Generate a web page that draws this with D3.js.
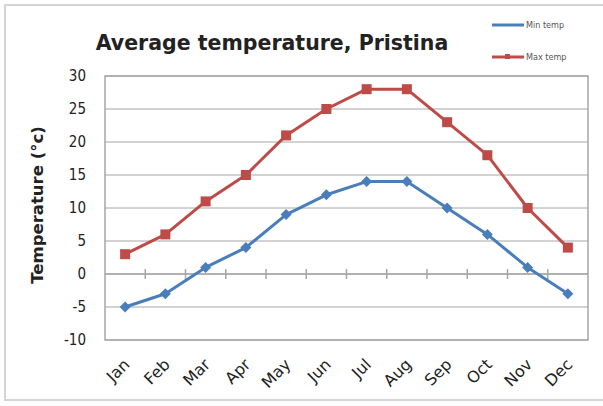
<!DOCTYPE html>
<html><head><meta charset="utf-8">
<script src="https://cdn.jsdelivr.net/npm/d3@7"></script>
<style>body{margin:0;background:#fff}svg{display:block}</style>
</head><body>
<svg id="c" width="603" height="406"></svg>
<script>
const months = ["Jan","Feb","Mar","Apr","May","Jun","Jul","Aug","Sep","Oct","Nov","Dec"];
const minTemp = [-5,-3,1,4,9,12,14,14,10,6,1,-3];
const maxTemp = [3,6,11,15,21,25,28,28,23,18,10,4];
const yTicks = [-10,-5,0,5,10,15,20,25,30];
const seriesNames = ["Min temp","Max temp"];
const colors = ["#4a7ebb","#be4b48"];

const svg = d3.select("#c");
const L=105, R=588, T=76, B=340;
svg.append("rect").attr("x",5).attr("y",5).attr("width",603).attr("height",395)
  .attr("fill","#fff").attr("stroke","#d4d4d4").attr("stroke-width",2);

const x = d3.scaleBand().domain(months).range([L,R]);
const y = d3.scaleLinear().domain([-10,30]).range([B,T]);

// gridlines
svg.append("g").selectAll("line").data(yTicks).join("line")
  .attr("x1",L).attr("x2",R).attr("y1",d=>y(d)).attr("y2",d=>y(d))
  .attr("stroke","#a6a6a6").attr("stroke-width",1);
svg.append("rect").attr("x",L).attr("y",T).attr("width",R-L).attr("height",B-T)
  .attr("fill","none").attr("stroke","#a6a6a6").attr("stroke-width",1.5);

// y axis labels
const yAxis = d3.axisLeft(y).tickValues(yTicks).tickSize(0).tickPadding(19).tickFormat(d=>String(d));
const ga = svg.append("g").attr("transform",`translate(${L},0)`).call(yAxis);
ga.select(".domain").remove();
ga.selectAll("text").attr("font-family","DejaVu Sans Condensed, DejaVu Sans, sans-serif")
  .attr("font-size",15).attr("fill","#222");

// x axis at 0
const bounds = d3.range(13).map(i=>L+i*x.bandwidth());
svg.append("line").attr("x1",L).attr("x2",R).attr("y1",y(0)).attr("y2",y(0))
  .attr("stroke","#a6a6a6").attr("stroke-width",1.5);
svg.append("g").selectAll("line").data(bounds.slice(1,-1)).join("line")
  .attr("x1",d=>d).attr("x2",d=>d).attr("y1",y(0)-5).attr("y2",y(0)+5)
  .attr("stroke","#a6a6a6").attr("stroke-width",1.5);

// x labels
svg.append("g").selectAll("text").data(months).join("text")
  .attr("transform",d=>`translate(${x(d)+x.bandwidth()/2-3},${B+17}) rotate(-45)`)
  .attr("text-anchor","end").attr("dy","0.75em")
  .attr("font-family","DejaVu Sans, sans-serif")
  .attr("font-size",16).attr("fill","#222").text(d=>d);

// axis title
svg.append("text").attr("transform","translate(43,205) rotate(-90)")
  .attr("text-anchor","middle").attr("font-family","DejaVu Sans, sans-serif")
  .attr("font-weight","bold").attr("font-size",16.5).attr("fill","#222").text("Temperature (°c)");

// title
svg.append("text").attr("x",272).attr("y",50).attr("text-anchor","middle")
  .attr("font-family","DejaVu Sans, sans-serif")
  .attr("font-weight","bold").attr("font-size",20.5).attr("fill","#222").text("Average temperature, Pristina");

// lines
const cx = d=>x(d)+x.bandwidth()/2;
const line = d3.line().x((d,i)=>cx(months[i])).y(d=>y(d));
[minTemp,maxTemp].forEach((s,k)=>{
  svg.append("path").attr("d",line(s)).attr("fill","none").attr("stroke",colors[k])
    .attr("stroke-width",3).attr("stroke-linejoin","round");
});
svg.append("g").selectAll("path").data(minTemp).join("path")
  .attr("d",d3.symbol(d3.symbolSquare,60)())
  .attr("transform",(d,i)=>`translate(${cx(months[i])},${y(d)}) rotate(45)`)
  .attr("fill",colors[0]);
svg.append("g").selectAll("rect").data(maxTemp).join("rect")
  .attr("x",(d,i)=>cx(months[i])-5).attr("y",d=>y(d)-5).attr("width",10).attr("height",10)
  .attr("fill",colors[1]);

// legend
const lg = svg.append("g");
[25,57].forEach((ly,k)=>{
  lg.append("line").attr("x1",492).attr("x2",524).attr("y1",ly).attr("y2",ly)
    .attr("stroke",colors[k]).attr("stroke-width",3);
  if(k===1) lg.append("rect").attr("x",505).attr("y",ly-3).attr("width",5).attr("height",5).attr("fill",colors[k]);
  lg.append("text").attr("x",526).attr("y",ly).attr("dy","0.35em")
    .attr("font-family","DejaVu Sans Condensed, DejaVu Sans, sans-serif")
    .attr("font-size",9).attr("fill","#555").text(seriesNames[k]);
});
</script>
</body></html>
